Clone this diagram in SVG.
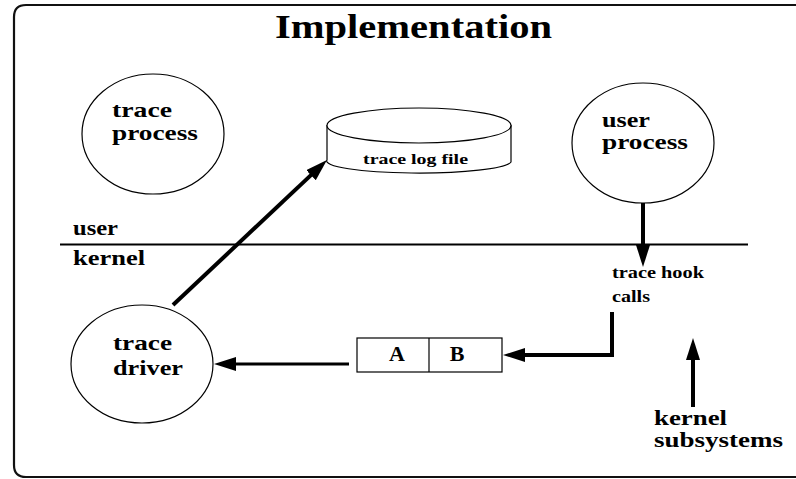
<svg xmlns="http://www.w3.org/2000/svg" width="796" height="479" viewBox="0 0 796 479">
<defs>
<style>
.node{fill:#fff;stroke:#000;stroke-width:1.2}
.lbl{font-family:"Liberation Serif","Times New Roman",serif;font-weight:bold;fill:#000}
.conn{fill:none;stroke:#000;stroke-linecap:butt;stroke-linejoin:miter}
</style>
<marker id="ah" markerUnits="userSpaceOnUse" markerWidth="24" markerHeight="16" refX="12" refY="7" orient="auto">
<path d="M0,0 L22,7 L0,14 z" fill="#000"/>
</marker>
</defs>
<rect x="0" y="0" width="796" height="479" fill="#fff"/>
<path id="frame" d="M810,5 L26,5 Q14,5 14,17 L14,465 Q14,477 26,477 L810,477" fill="none" stroke="#111" stroke-width="2.2"/>
<text class="lbl" x="275" y="38" font-size="34" textLength="277" lengthAdjust="spacingAndGlyphs">Implementation</text>
<line id="divider" x1="60" y1="244.5" x2="748" y2="244.5" stroke="#000" stroke-width="2"/>
<text class="lbl" x="73" y="235" font-size="22" textLength="45" lengthAdjust="spacingAndGlyphs">user</text>
<text class="lbl" x="73" y="265" font-size="22" textLength="72" lengthAdjust="spacingAndGlyphs">kernel</text>
<g id="trace-process">
<ellipse class="node" cx="153" cy="134" rx="71" ry="60"/>
<text class="lbl" x="112" y="117" font-size="21" textLength="60" lengthAdjust="spacingAndGlyphs">trace</text>
<text class="lbl" x="112" y="140" font-size="21" textLength="86" lengthAdjust="spacingAndGlyphs">process</text>
</g>
<g id="user-process">
<ellipse class="node" cx="643" cy="143" rx="71" ry="60"/>
<text class="lbl" x="602" y="127" font-size="20" textLength="48" lengthAdjust="spacingAndGlyphs">user</text>
<text class="lbl" x="602" y="149" font-size="20" textLength="86" lengthAdjust="spacingAndGlyphs">process</text>
</g>
<g id="trace-driver">
<ellipse class="node" cx="142" cy="364" rx="71" ry="59"/>
<text class="lbl" x="113" y="350" font-size="22" textLength="59" lengthAdjust="spacingAndGlyphs">trace</text>
<text class="lbl" x="113" y="375" font-size="22" textLength="70" lengthAdjust="spacingAndGlyphs">driver</text>
</g>
<g id="trace-log-file">
<path class="node" d="M327,125 L327,160 A92,12 0 0 0 511,162 L511,125"/>
<ellipse class="node" cx="419" cy="125.5" rx="92" ry="17.5"/>
<text class="lbl" x="363" y="164" font-size="14" textLength="105" lengthAdjust="spacingAndGlyphs">trace log file</text>
</g>
<g id="buffer">
<rect class="node" x="357" y="338" width="145" height="34"/>
<line x1="429" y1="338" x2="429" y2="372" stroke="#000" stroke-width="1.2"/>
<text class="lbl" x="397" y="361" font-size="22" text-anchor="middle">A</text>
<text class="lbl" x="457" y="361" font-size="22" text-anchor="middle">B</text>
</g>
<g id="trace-hook-calls">
<text class="lbl" x="612" y="278" font-size="16" textLength="92" lengthAdjust="spacingAndGlyphs">trace hook</text>
<text class="lbl" x="612" y="302" font-size="16" textLength="38" lengthAdjust="spacingAndGlyphs">calls</text>
</g>
<g id="kernel-subsystems">
<text class="lbl" x="654" y="425" font-size="20" textLength="73" lengthAdjust="spacingAndGlyphs">kernel</text>
<text class="lbl" x="654" y="447" font-size="20" textLength="129" lengthAdjust="spacingAndGlyphs">subsystems</text>
</g>
<g id="connectors">
<line class="conn" x1="173" y1="305" x2="319.7" y2="166.9" stroke-width="4" marker-end="url(#ah)"/>
<line class="conn" x1="643" y1="203" x2="643" y2="257" stroke-width="4" marker-end="url(#ah)"/>
<polyline class="conn" points="612,312 612,355 513,355" stroke-width="4" marker-end="url(#ah)"/>
<line class="conn" x1="349" y1="364" x2="224" y2="364" stroke-width="3" marker-end="url(#ah)"/>
<line class="conn" x1="693" y1="407" x2="693" y2="348" stroke-width="4" marker-end="url(#ah)"/>
</g>
</svg>
